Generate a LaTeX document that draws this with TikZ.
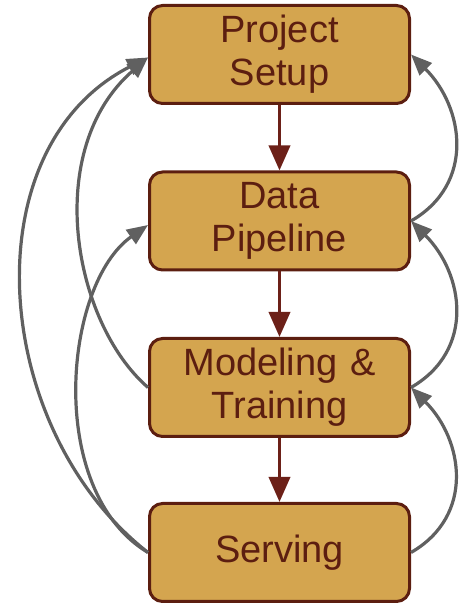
\documentclass[tikz,border=0pt]{standalone}
\usepackage{fontspec}
\setmainfont{Liberation Sans}
\usetikzlibrary{arrows.meta}
\definecolor{stagefill}{RGB}{212,165,79}
\definecolor{stageline}{RGB}{92,30,16}
\definecolor{flowline}{RGB}{108,32,24}
\definecolor{loopline}{RGB}{96,96,96}
\begin{document}
\begin{tikzpicture}[x=1pt,y=1pt,
    stage/.style={draw=stageline,fill=stagefill,line width=3pt,rounded corners=13pt,
      minimum width=260pt,minimum height=98pt,text width=250pt,align=center,
      inner sep=0pt,text=stageline,font=\fontsize{38}{43}\selectfont},
    flow/.style={draw=flowline,line width=3.6pt,-{Triangle[length=25pt,width=21pt]}},
    loop/.style={draw=loopline,line width=3.2pt,-{Triangle[length=21pt,width=17pt]}}]
  \useasboundingbox (0,0) rectangle (458,604);
  \draw
    (279.5,549.5) node[stage] (setup){Project\\Setup}
    (279.5,383) node[stage] (data){Data\\Pipeline}
    (279.5,216.5) node[stage] (model){Modeling \&\\Training}
    (279.5,51.5) node[stage] (serve){Serving};
  \begin{scope}[flow]
    \draw (setup) to (data);
    \draw (data) to (model);
    \draw (model) to (serve);
  \end{scope}
  \begin{scope}[loop]
    \draw (serve.west) to[out=142,in=207,out distance=200pt,in distance=200pt] ([yshift=-3pt]setup.west);
    \draw (model.west) to[out=139,in=221,out distance=100pt,in distance=140pt] ([yshift=-3pt]setup.west);
    \draw (serve.west) to[out=149,in=215,out distance=120pt,in distance=103pt] ([yshift=-4pt]data.west);
    \draw (data.east) to[out=30,in=-45,looseness=1.15] (setup.east);
    \draw (model.east) to[out=30,in=-45,looseness=1.15] (data.east);
    \draw (serve.east) to[out=30,in=-45,looseness=1.15] (model.east);
  \end{scope}
\end{tikzpicture}
\end{document}
